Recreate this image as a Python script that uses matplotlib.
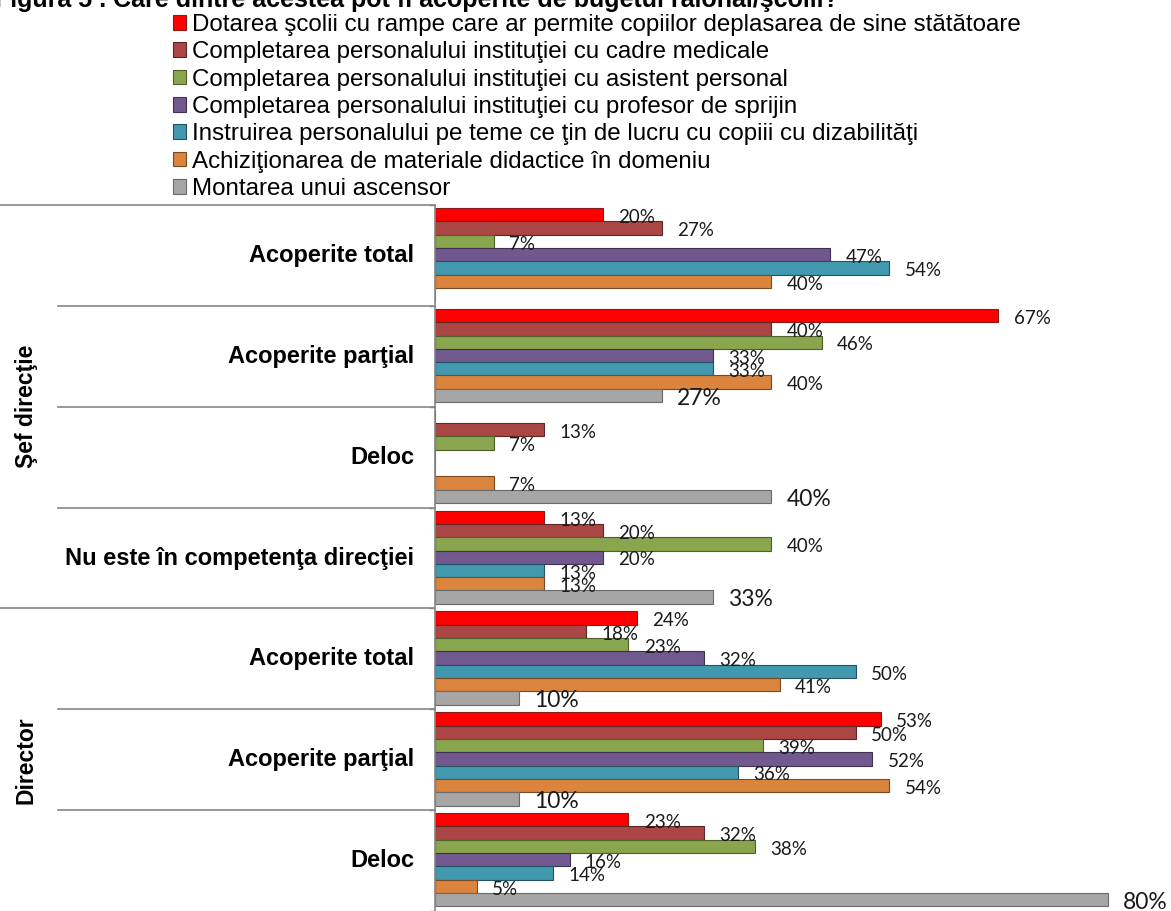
import numpy as np
import matplotlib
matplotlib.use("Agg")
import matplotlib.pyplot as plt
from matplotlib.patches import Patch

# answer options (legend order, top bar to bottom bar inside a group)
series = [
    "Dotarea şcolii cu rampe care ar permite copiilor deplasarea de sine stătătoare",
    "Completarea personalului instituţiei cu cadre medicale",
    "Completarea personalului instituţiei cu asistent personal",
    "Completarea personalului instituţiei cu profesor de sprijin",
    "Instruirea personalului pe teme ce ţin de lucru cu copiii cu dizabilităţi",
    "Achiziţionarea de materiale didactice în domeniu",
    "Montarea unui ascensor",
]
colors = ["#FF0000", "#AA4643", "#89A54E", "#71588F", "#4198AF", "#DB843D", "#A6A6A6"]
edges = ["#8B1A1A", "#5E2725", "#4F5F2C", "#3F3150", "#245462", "#7A4A22", "#6A6A6A"]

categories = ["Acoperite total", "Acoperite parţial", "Deloc",
              "Nu este în competenţa direcţiei",
              "Acoperite total", "Acoperite parţial", "Deloc"]
roles = ["Şef direcţie", "Director"]
role_sizes = [4, 3]

# percent per category (rows) and option (columns); 0 = no answer
values = np.array([
    [20, 27, 7, 47, 54, 40, 0],
    [67, 40, 46, 33, 33, 40, 27],
    [0, 13, 7, 0, 0, 7, 40],
    [13, 20, 40, 20, 13, 13, 33],
    [24, 18, 23, 32, 50, 41, 10],
    [53, 50, 39, 52, 36, 54, 10],
    [23, 32, 38, 16, 14, 5, 80],
])

W, H = 1171, 911
fig = plt.figure(figsize=(W / 100, H / 100), dpi=100)
ax = fig.add_axes([435 / W, 0, (W - 435) / W, (H - 205) / H])

bar_h = 0.132
ng = len(categories)
for s in range(len(series)):
    ypos = np.arange(ng) - 0.404 + s * bar_h
    vals = values[:, s]
    ax.barh(ypos, vals, height=bar_h, color=colors[s], edgecolor=edges[s],
            linewidth=0.8, label=series[s])
    for y, v in zip(ypos, vals):
        if v == 0:
            continue
        big = s == len(series) - 1
        ax.annotate(f"{v}%", (v, y), xytext=(11, -2), textcoords="offset points",
                    va="center", ha="left", family="Lato",
                    fontsize=16.5 if big else 13.5, color="#1a1a1a")

ax.set_xlim(0, (W - 435) / 8.41)
ax.set_ylim(ng - 0.5, -0.5)
ax.set_xticks([])
ax.set_yticks(np.arange(ng + 1) - 0.5)
ax.set_yticklabels([])
ax.tick_params(axis="y", length=4, color="#868686", width=1)
for side in ["top", "right", "bottom"]:
    ax.spines[side].set_visible(False)
ax.spines["left"].set_color("#868686")
ax.spines["left"].set_linewidth(1.2)

# category names and separator lines left of the axis
tr = ax.get_yaxis_transform()
px = 1.0 / (W - 435)
for i, name in enumerate(categories):
    ax.text(-21 * px, i, name, transform=tr, ha="right", va="center",
            family="Liberation Sans", fontweight="bold", fontsize=17)

starts = np.cumsum([0] + role_sizes)
for i in range(ng):
    x0 = -435 * px if i in starts else -377 * px
    ax.plot([x0, 0], [i - 0.5, i - 0.5], transform=tr, color="#868686",
            lw=1.2, clip_on=False)

for r, name in enumerate(roles):
    mid = (starts[r] + starts[r + 1] - 1) / 2
    ax.text(-409 * px, mid, name, transform=tr, rotation=90, ha="center",
            va="center", family="Liberation Sans", fontweight="bold",
            fontsize=16.5)

handles = [Patch(facecolor=c, edgecolor=e, linewidth=0.8) for c, e in zip(colors, edges)]
fig.legend(handles, series, loc="upper left", bbox_to_anchor=(173 / W, 1 - 14 / H),
           frameon=False, prop={"family": "Liberation Sans", "size": 17.4},
           handlelength=0.55, handleheight=0.55, handletextpad=0.25,
           labelspacing=0.22, borderpad=0, borderaxespad=0)

fig.text(-0.004, 1 - 7 / H, "Figura 5 . Care dintre acestea pot fi acoperite de bugetul raional/şcolii?",
         ha="left", va="baseline", family="Liberation Sans", fontweight="bold",
         fontsize=18)

fig.savefig("out.png", dpi=100)
